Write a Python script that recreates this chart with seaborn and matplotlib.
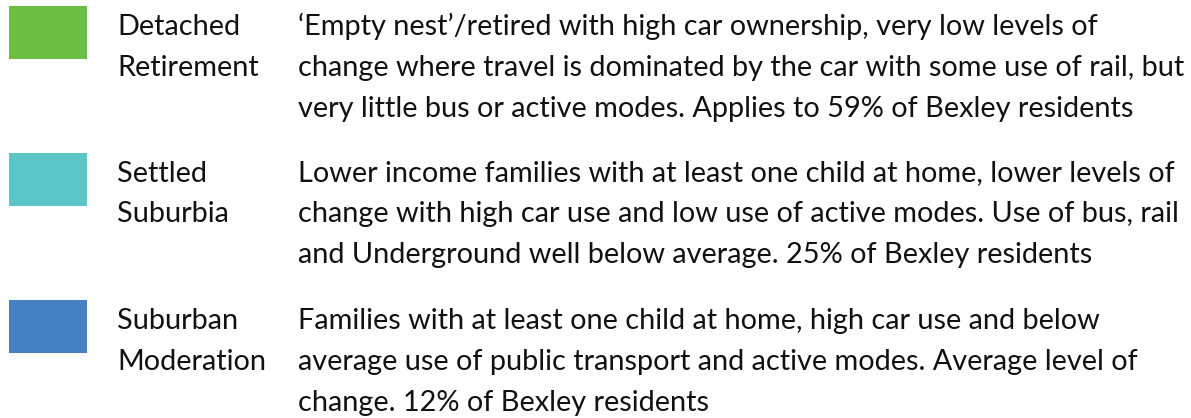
import matplotlib
matplotlib.use("Agg")
import matplotlib.pyplot as plt
from matplotlib.patches import Rectangle
import seaborn as sns

segments = ["Detached\nRetirement", "Settled\nSuburbia", "Suburban\nModeration"]
colors = ["#6DBE45", "#5BC5C8", "#4682C3"]
descriptions = [
    ["\u2018Empty nest\u2019/retired with high car ownership, very low levels of",
     "change where travel is dominated by the car with some use of rail, but",
     "very little bus or active modes. Applies to 59% of Bexley residents"],
    ["Lower income families with at least one child at home, lower levels of",
     "change with high car use and low use of active modes. Use of bus, rail",
     "and Underground well below average. 25% of Bexley residents"],
    ["Families with at least one child at home, high car use and below",
     "average use of public transport and active modes. Average level of",
     "change. 12% of Bexley residents"],
]

sns.set_theme(style="white")
plt.rcParams['font.family'] = ['Lato', 'DejaVu Sans']

W, H = 1191, 418
fig = plt.figure(figsize=(W / 100, H / 100), dpi=100)
ax = fig.add_axes([0, 0, 1, 1])
ax.set_xlim(0, W)
ax.set_ylim(H, 0)
ax.axis("off")

row_top = [35, 181.5, 329]
line_gap = 40.8
fs = 20.8
for i, (seg, col, desc) in enumerate(zip(segments, colors, descriptions)):
    b = row_top[i]
    ax.add_patch(Rectangle((9, b - 29), 78, 53, facecolor=col, edgecolor="none"))
    for j, part in enumerate(seg.split("\n")):
        ax.text(117, b + j * line_gap, part, fontsize=fs, color="#111111", va="baseline", ha="left")
    for j, line in enumerate(desc):
        ax.text(298, b + j * line_gap, line, fontsize=fs, color="#111111", va="baseline", ha="left")

fig.savefig("out.png", dpi=100)
